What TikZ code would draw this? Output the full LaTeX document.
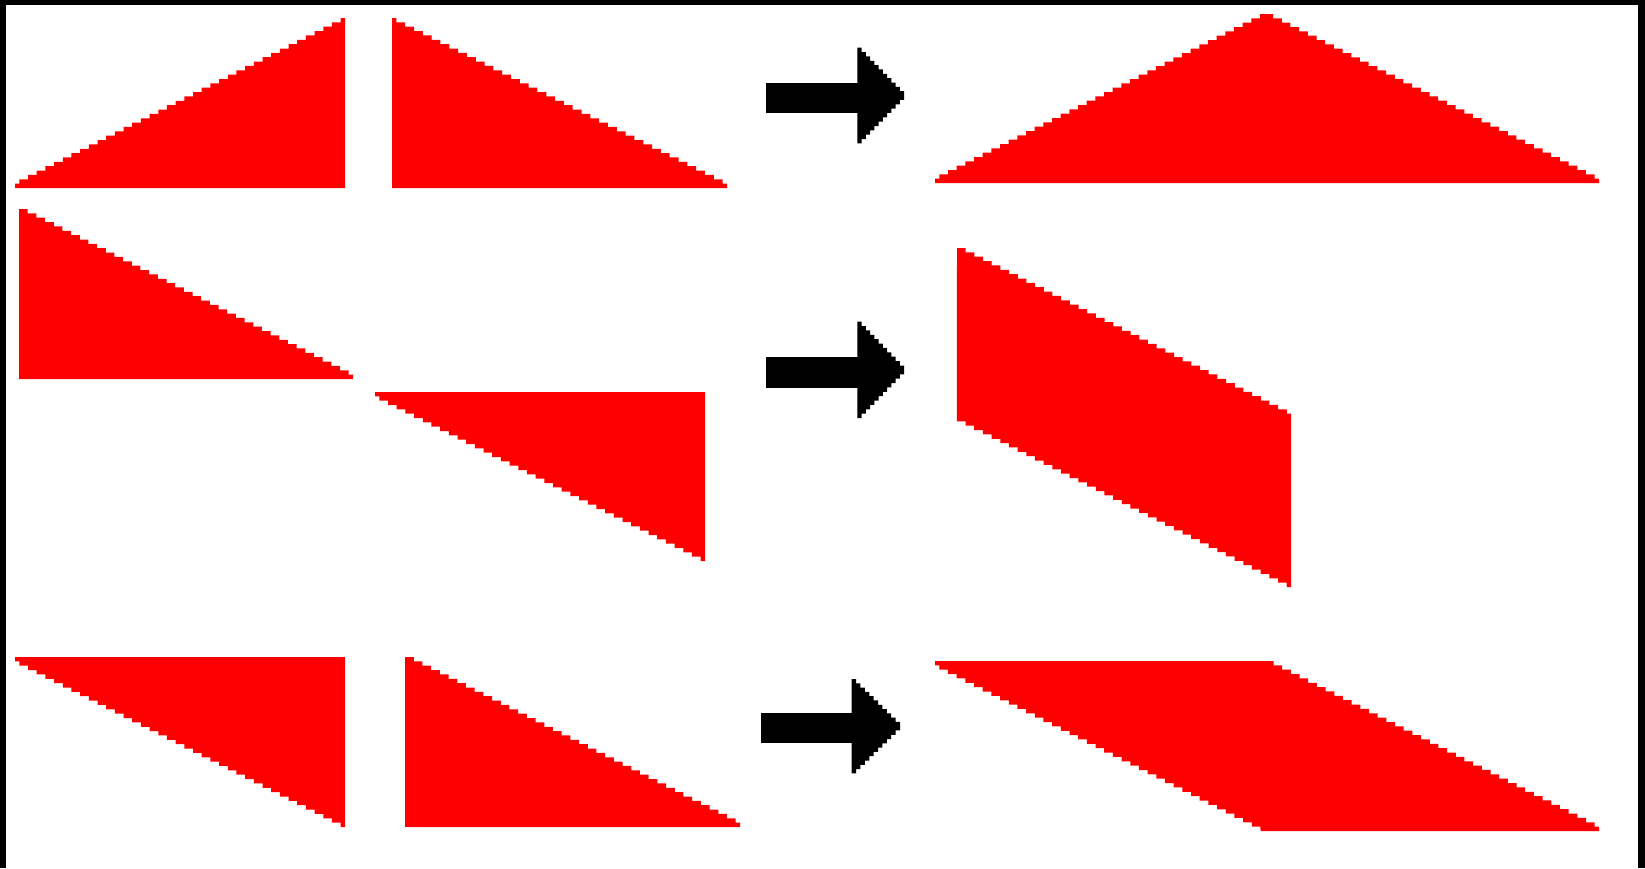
\documentclass[tikz,border=0pt]{standalone}
% staircase helpers
% \pix{op}{x0}{y0}{dx}{dy}{m}: m repetitions of  op (x0+i*dx, y0+i*dy)
\newcommand\pix[6]{\foreach \i in {1,...,#6}{#1 ({#2+\i*(#5-#5+#4)},{#3+\i*(#5)})}}
% \stairs{op}{xa}{ya}{xb}{yb}{m}: staircase with half steps at both ends, m+1 rows
\newcommand\stairs[6]{\foreach \i in {1,...,#6}{#1 ({#2+(\i-0.5)*(#4-#2)/#6},{#3+\i*(#5-#3)/(#6+1)})} #1 (#4,#5)}
% \pixarrow{shaft x}{shaft top}{shaft bottom}{head x}{head top}{dx}{dy}
\newcommand\pixarrow[7]{%
  \fill[arrowfill] (#1,#2) rectangle ({#4+0.5},#3);
  \fill[arrowfill] (#4,#5) \pix{-|}{#4}{#5}{#6}{#7}{11} \pix{|-}{#4+11*#6}{#5+11*#7}{-#6}{#7}{11} -- cycle;}
\tikzset{
  shapefill/.style={fill={rgb,255:red,255;green,0;blue,0}},
  arrowfill/.style={fill=black},
  framefill/.style={fill=black}
}
\begin{document}
\begin{tikzpicture}[x=1pt,y=-1pt]
\useasboundingbox (0,0) rectangle (1645,868);
\fill[white] (0,0) rectangle (1645,868);
% frame (top, left, right)
\fill[framefill] (0,0) rectangle (1645,5);
\fill[framefill] (0,0) rectangle (6,868);
\fill[framefill] (1638,0) rectangle (1645,868);

% ---- row 1 ----
\fill[shapefill] (15,188) \stairs{|-}{15}{188}{345}{18}{38} -- (345,188) -- cycle;
\fill[shapefill] (727,188) \stairs{|-}{727}{188}{392}{18}{38} -- (392,188) -- cycle;
\pixarrow{766}{82.7}{113.3}{857.3}{47.7}{4.25}{4.35}
\fill[shapefill] (935,183) \stairs{|-}{935}{183}{1264.3}{14}{38} -- (1268.7,14)
  \stairs{-|}{1268.7}{14}{1599}{183}{38} -- cycle;

% ---- row 2 ----
\fill[shapefill] (353,379) \stairs{|-}{353}{379}{23.4}{209}{38} -- (19,209) -- (19,379) -- cycle;
\fill[shapefill] (375,392) \stairs{|-}{375}{392}{705}{561}{38} -- (705,392) -- cycle;
\pixarrow{766}{356.7}{387.7}{857.3}{321.7}{4.25}{4.38}
\fill[shapefill] (957,248) \pix{-|}{957}{248}{8.68}{4.36}{38} -- (1291,413.7) -- (1291,587)
  -- (1286.7,587) \pix{|-}{1286.7}{587}{-8.68}{-4.36}{38} -- cycle;

% ---- row 3 ----
\fill[shapefill] (15,657) \stairs{|-}{15}{657}{345}{827}{38} -- (345,657) -- cycle;
\fill[shapefill] (740,827) \stairs{|-}{740}{827}{409.4}{657}{38} -- (405,657) -- (405,827) -- cycle;
\pixarrow{761}{713.3}{743.3}{851.7}{679}{4.39}{4.29}
\fill[shapefill] (935,661) |- (939.3,665.36) \pix{|-}{939.3}{665.36}{8.68}{4.36}{37}
  -- (1260.5,831) -- (1599,831) -- (1599,826.64) -- (1594.66,826.64)
  \pix{|-}{1594.66}{826.64}{-8.68}{-4.36}{37} -- (1273.5,661) -- cycle;
\end{tikzpicture}
\end{document}
